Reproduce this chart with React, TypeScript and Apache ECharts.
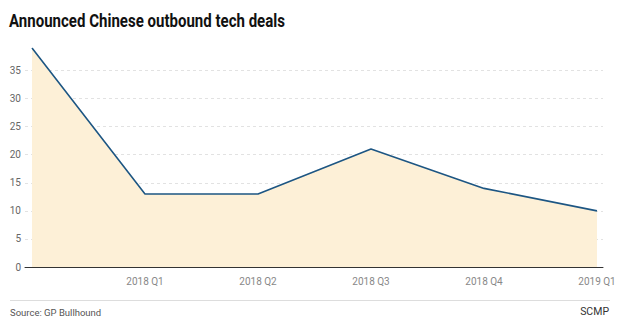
import React, { useEffect, useRef } from "react";
import * as echarts from "echarts";

const quarters = ["2017 Q4", "2018 Q1", "2018 Q2", "2018 Q3", "2018 Q4", "2019 Q1"];
const deals = [39, 13, 13, 21, 14, 10];
const yTicks = [0, 5, 10, 15, 20, 25, 30, 35];

const TITLE = "Announced Chinese outbound tech deals";
const SOURCE = "Source: GP Bullhound";
const BRAND = "SCMP";

export default function App() {
  const ref = useRef<HTMLDivElement>(null);
  useEffect(() => {
    if (!ref.current) return;
    const chart = echarts.init(ref.current, null, { renderer: "svg" });
    const font = "Roboto, 'Noto Sans', sans-serif";
    const yMax = 39;
    chart.setOption({
      animation: false,
      backgroundColor: "#ffffff",
      grid: [
        { left: 25, right: 27, top: 48, bottom: 61 },
        { left: 32, right: 33, top: 48, bottom: 61 },
      ],
      xAxis: [
        {
          type: "value",
          gridIndex: 0,
          min: 0,
          max: 1,
          axisLine: { show: true, lineStyle: { color: "#333333", width: 1 } },
          axisTick: { show: false },
          axisLabel: { show: false },
          splitLine: { show: false },
        },
        {
          type: "category",
          gridIndex: 1,
          data: quarters,
          boundaryGap: false,
          axisLine: { show: false },
          axisTick: { show: false },
          splitLine: { show: false },
          axisLabel: {
            color: "#888888",
            fontSize: 10,
            fontFamily: font,
            margin: 9,
            interval: 0,
            formatter: (v: string, i: number) => (i === 0 ? "" : v),
          },
        },
      ],
      yAxis: [
        {
          type: "value",
          gridIndex: 0,
          min: 0,
          max: yMax,
          interval: 5,
          axisLine: { show: false },
          axisTick: { show: false },
          axisLabel: {
            color: "#666666",
            fontSize: 10,
            fontFamily: font,
            margin: 4,
            showMaxLabel: false,
            formatter: (v: number) => (yTicks.includes(v) ? String(v) : ""),
          },
          splitLine: {
            show: true,
            showMinLine: false,
            showMaxLine: false,
            lineStyle: { color: "#e2e2e2", type: [3, 3], width: 1 },
          },
        },
        {
          type: "value",
          gridIndex: 1,
          min: 0,
          max: yMax,
          show: false,
          splitLine: { show: false },
        },
      ],
      series: [
        {
          type: "line",
          xAxisIndex: 1,
          yAxisIndex: 1,
          data: deals,
          symbol: "none",
          lineStyle: { color: "#1d5683", width: 1.6 },
          areaStyle: { color: "#fdf0d7", opacity: 1 },
          z: 1,
        },
      ],
      graphic: [
        {
          type: "text",
          x: 9,
          y: 12,
          scaleX: 0.835,
          style: {
            x: 0,
            y: 0,
            text: TITLE,
            font: `bold 18px ${font}`,
            fill: "#111111",
            verticalAlign: "top",
          },
        },
        {
          type: "line",
          shape: { x1: 10, y1: 300.5, x2: 610, y2: 300.5 },
          style: { stroke: "#dddddd", lineWidth: 1 },
        },
        {
          type: "text",
          left: 10,
          top: 307,
          style: { text: SOURCE, font: `9.5px ${font}`, fill: "#555555" },
        },
        {
          type: "text",
          right: 21,
          top: 306,
          style: { text: BRAND, font: `10.5px ${font}`, fill: "#333333" },
        },
      ],
    });
    return () => chart.dispose();
  }, []);
  return <div ref={ref} style={{ width: 630, height: 328, position: "absolute", left: 0, top: 0 }} />;
}
